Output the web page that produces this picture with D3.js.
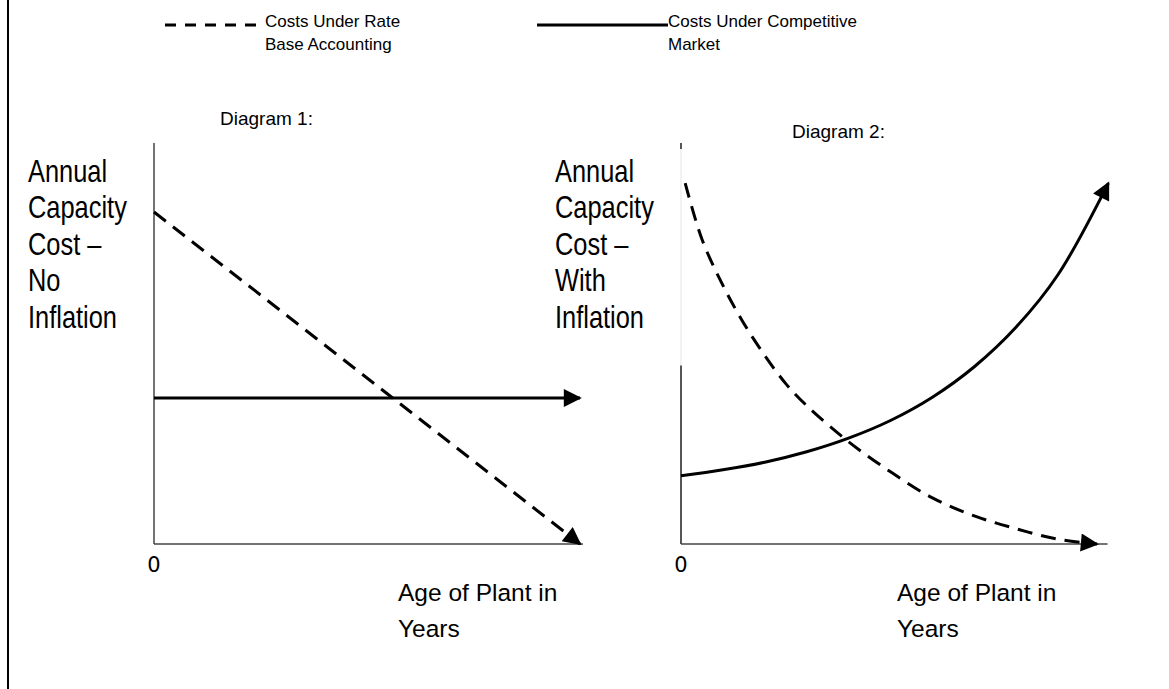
<!DOCTYPE html>
<html>
<head>
<meta charset="utf-8">
<script src="https://cdn.jsdelivr.net/npm/d3@7"></script>
<style>
  body { margin: 0; background: #fff; }
  text { fill: #000; }
</style>
</head>
<body>
<div id="chart"></div>
<script>
// values (age in years 0..10, cost in arbitrary units 0..10)
const legendLabels = [["Costs Under Rate", "Base Accounting"], ["Costs Under Competitive", "Market"]];
const diagramTitles = ["Diagram 1:", "Diagram 2:"];
const yLabels = [
  ["Annual", "Capacity", "Cost \u2013", "No", "Inflation"],
  ["Annual", "Capacity", "Cost \u2013", "With", "Inflation"]
];
const xLabel = ["Age of Plant in", "Years"];

const d1Rate = [[0, 8.28], [10, 0]];
const d1Market = [[0, 3.64], [10, 3.64]];

const d2Rate = [[0.1, 9.0], [0.5, 7.6], [1, 6.45], [1.5, 5.5], [2, 4.7], [2.5, 4.0], [3, 3.45],
  [4, 2.55], [5, 1.8], [6, 1.15], [7, 0.7], [8, 0.38], [9, 0.12], [9.93, 0]];
const d2Market = [[0, 1.7], [1, 1.85], [2, 2.04], [3, 2.3], [4, 2.64], [5, 3.08], [6, 3.66],
  [7, 4.42], [8, 5.41], [9, 6.72], [10.2, 9.0]];

const W = 1169, H = 689;
const svg = d3.select('#chart').append('svg').attr('width', W).attr('height', H);

svg.append('defs').append('marker')
  .attr('id', 'arrow')
  .attr('viewBox', '0 0 10 10')
  .attr('refX', 9).attr('refY', 5)
  .attr('markerWidth', 7).attr('markerHeight', 6)
  .attr('markerUnits', 'strokeWidth')
  .attr('orient', 'auto')
  .append('path').attr('d', 'M0,0 L10,5 L0,10 Z').attr('fill', '#000');

// frame edge on the left
svg.append('line').attr('x1', 8).attr('x2', 8).attr('y1', 0).attr('y2', H)
  .attr('stroke', '#000').attr('stroke-width', 2);

// legend
const legend = svg.append('g').attr('font-family', 'Liberation Sans, Arial, sans-serif').attr('font-size', 17);
legend.append('line').attr('x1', 165).attr('x2', 256).attr('y1', 25).attr('y2', 25)
  .attr('stroke', '#000').attr('stroke-width', 3).attr('stroke-dasharray', '11,9');
legend.append('line').attr('x1', 537).attr('x2', 668).attr('y1', 25).attr('y2', 25)
  .attr('stroke', '#000').attr('stroke-width', 3);
[265, 668].forEach((x, i) => {
  legend.append('text').attr('x', x).attr('y', 27).text(legendLabels[i][0]);
  legend.append('text').attr('x', x).attr('y', 50).text(legendLabels[i][1]);
});

const panels = [
  { x0: 154, x1: 580, axisEnd: 10.07, title: [220, 125], rate: d1Rate, market: d1Market, labelX: 28, ageX: 398, curve: d3.curveLinear },
  { x0: 681, x1: 1100, axisEnd: 10.18, title: [792, 138], rate: d2Rate, market: d2Market, labelX: 555, ageX: 897, curve: d3.curveCatmullRom }
];

panels.forEach((p, i) => {
  const x = d3.scaleLinear().domain([0, 10]).range([p.x0, p.x1]);
  const y = d3.scaleLinear().domain([0, 10]).range([544, 143]);
  const g = svg.append('g');

  // axes
  if (i === 0) {
    g.append('line').attr('x1', x(0)).attr('x2', x(0)).attr('y1', y(10)).attr('y2', y(0))
      .attr('stroke', '#444').attr('stroke-width', 1.5);
  } else {
    g.append('line').attr('x1', x(0)).attr('x2', x(0)).attr('y1', y(10)).attr('y2', y(0))
      .attr('stroke', '#eee').attr('stroke-width', 1.5);
    g.append('line').attr('x1', x(0)).attr('x2', x(0)).attr('y1', y(10)).attr('y2', y(9.85))
      .attr('stroke', '#222').attr('stroke-width', 1.5);
    g.append('line').attr('x1', x(0)).attr('x2', x(0)).attr('y1', y(4.45)).attr('y2', y(0))
      .attr('stroke', '#222').attr('stroke-width', 1.5);
  }
  g.append('line').attr('x1', x(0)).attr('x2', x(p.axisEnd)).attr('y1', y(0)).attr('y2', y(0))
    .attr('stroke', '#444').attr('stroke-width', 1.5);

  const line = d3.line().x(d => x(d[0])).y(d => y(d[1])).curve(p.curve);

  g.append('path').datum(p.rate).attr('d', line)
    .attr('fill', 'none').attr('stroke', '#000').attr('stroke-width', 3)
    .attr('stroke-dasharray', '15,9').attr('marker-end', 'url(#arrow)');
  g.append('path').datum(p.market).attr('d', line)
    .attr('fill', 'none').attr('stroke', '#000').attr('stroke-width', 3)
    .attr('marker-end', 'url(#arrow)');

  g.append('text').attr('x', p.title[0]).attr('y', p.title[1])
    .attr('font-family', 'Liberation Sans, Arial, sans-serif').attr('font-size', 19).text(diagramTitles[i]);

  // narrow face: squeeze Liberation Sans horizontally
  const yl = g.append('text')
    .attr('transform', `translate(${p.labelX},0) scale(0.82,1)`)
    .attr('font-family', 'Liberation Sans, Arial, sans-serif').attr('font-size', 31);
  yLabels[i].forEach((t, k) => {
    yl.append('tspan').attr('x', 0).attr('y', 182 + k * 36.5).text(t);
  });

  g.append('text').attr('x', x(0)).attr('y', 572).attr('text-anchor', 'middle')
    .attr('font-family', 'DejaVu Sans, sans-serif').attr('font-size', 21).text('0');

  const al = g.append('text').attr('font-family', 'Liberation Sans, Arial, sans-serif').attr('font-size', 24.5);
  xLabel.forEach((t, k) => {
    al.append('tspan').attr('x', p.ageX).attr('y', 601 + k * 36).text(t);
  });
});
</script>
</body>
</html>
